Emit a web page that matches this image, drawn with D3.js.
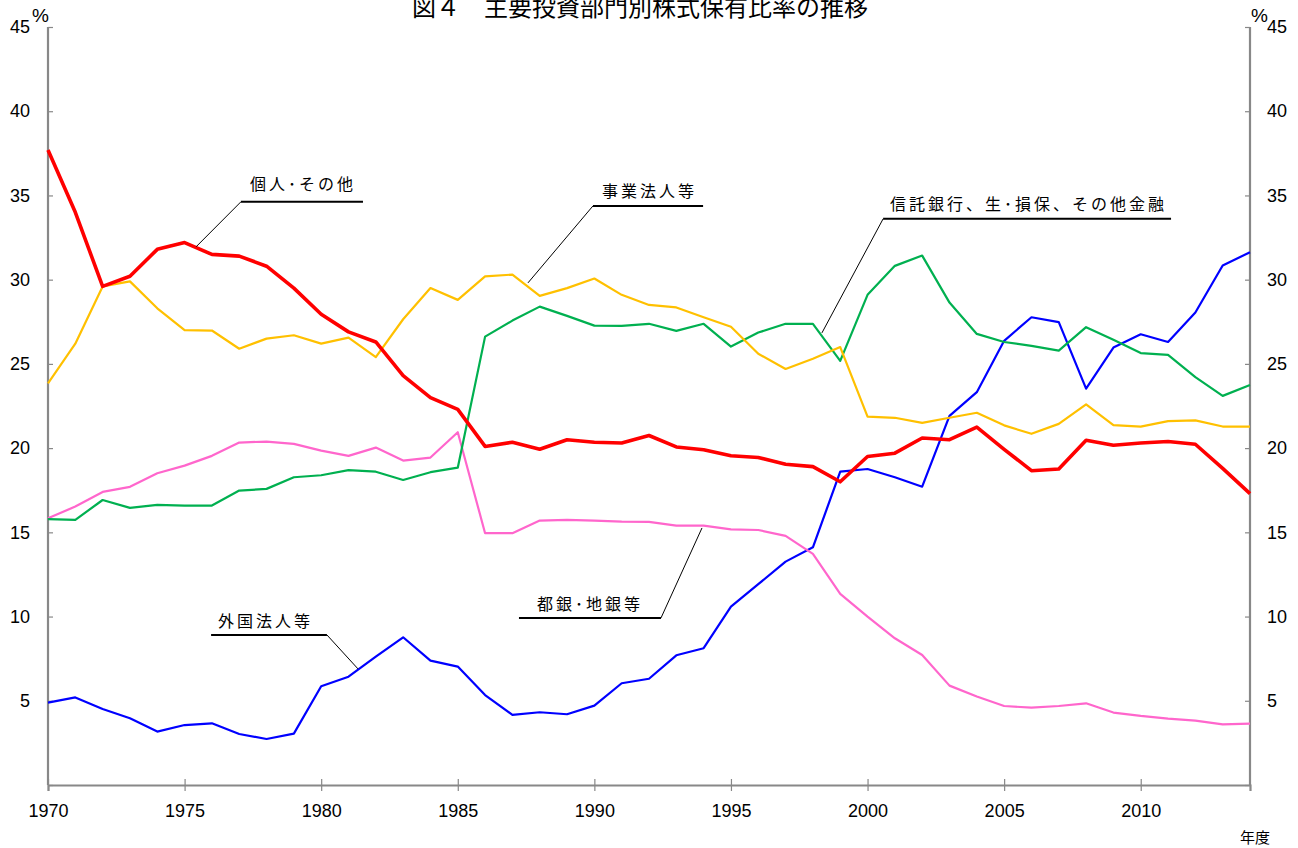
<!DOCTYPE html>
<html>
<head>
<meta charset="utf-8">
<script src="https://cdn.jsdelivr.net/npm/d3@7"></script>
<style>
  body { margin: 0; background: #fff; }
  svg { font-family: "Noto Sans CJK JP", "Noto Sans", sans-serif; }
</style>
</head>
<body>
<div id="chart"></div>
<script>
// 年度
var years = d3.range(1970, 2015);

// 個人・その他
var individuals = [37.7, 34.0, 29.6, 30.2, 31.8, 32.2, 31.5, 31.4, 30.8, 29.5,
  27.95, 26.9, 26.3, 24.3, 23.0, 22.3, 20.1, 20.35, 19.93, 20.5,
  20.35, 20.3, 20.75, 20.07, 19.9, 19.55, 19.44, 19.04, 18.9, 18.0,
  19.5, 19.7, 20.6, 20.5, 21.25, 19.93, 18.66, 18.76, 20.47, 20.17,
  20.3, 20.39, 20.23, 18.8, 17.3];

// 事業法人等
var corporations = [23.85, 26.2, 29.6, 29.9, 28.3, 27.0, 26.98, 25.9, 26.5, 26.7,
  26.2, 26.56, 25.4, 27.65, 29.5, 28.8, 30.2, 30.3, 29.04, 29.5,
  30.07, 29.1, 28.5, 28.35, 27.77, 27.2, 25.6, 24.7, 25.3, 26.0,
  21.87, 21.8, 21.5, 21.8, 22.1, 21.35, 20.85, 21.44, 22.6, 21.36,
  21.28, 21.6, 21.65, 21.28, 21.28];

// 信託銀行、生・損保、その他金融
var financials = [15.78, 15.74, 16.92, 16.45, 16.63, 16.59, 16.59, 17.48, 17.58, 18.27,
  18.39, 18.69, 18.6, 18.11, 18.57, 18.84, 26.62, 27.57, 28.4, 27.85,
  27.27, 27.26, 27.38, 26.96, 27.38, 26.03, 26.86, 27.38, 27.38, 25.18,
  29.1, 30.82, 31.43, 28.64, 26.78, 26.3, 26.07, 25.79, 27.18, 26.43,
  25.64, 25.53, 24.21, 23.1, 23.75];

// 都銀・地銀等
var banks = [15.84, 16.53, 17.4, 17.7, 18.51, 18.96, 19.54, 20.33, 20.39, 20.25,
  19.85, 19.54, 20.03, 19.26, 19.44, 20.94, 14.95, 14.95, 15.7, 15.74,
  15.7, 15.64, 15.62, 15.4, 15.4, 15.18, 15.14, 14.79, 13.72, 11.35,
  10.0, 8.71, 7.72, 5.9, 5.25, 4.69, 4.59, 4.69, 4.85, 4.3,
  4.1, 3.94, 3.82, 3.6, 3.64];

// 外国法人等
var foreigners = [4.89, 5.2, 4.51, 3.96, 3.17, 3.56, 3.66, 3.03, 2.73, 3.05,
  5.86, 6.43, 7.62, 8.77, 7.38, 7.03, 5.34, 4.16, 4.32, 4.2,
  4.71, 6.04, 6.31, 7.7, 8.12, 10.59, 11.92, 13.26, 14.11, 18.6,
  18.76, 18.27, 17.71, 21.91, 23.32, 26.37, 27.77, 27.48, 23.53, 25.97,
  26.76, 26.3, 28.05, 30.84, 31.63];

var yTicks = [0, 5, 10, 15, 20, 25, 30, 35, 40, 45];
var xTicks = [1970, 1975, 1980, 1985, 1990, 1995, 2000, 2005, 2010];

var series = [
  { name: "外国法人等", values: foreigners, color: "#0000FF", width: 2.2 },
  { name: "都銀・地銀等", values: banks, color: "#FF66CC", width: 2.2 },
  { name: "信託銀行、生・損保、その他金融", values: financials, color: "#00B050", width: 2.2 },
  { name: "事業法人等", values: corporations, color: "#FFC000", width: 2.2 },
  { name: "個人・その他", values: individuals, color: "#FF0000", width: 3.6 }
];

// labels: anchor on line, elbow, far end of underline (year, value), text start
var notes = [
  { text: "個人･その他", ax: 1975.42, ay: 31.95, ex: 1977.06, ey: 34.62, ux: 1981.53, tx: 1977.39, ty: 35.3 },
  { text: "事業法人等", ax: 1987.57, ay: 29.81, ex: 1989.95, ey: 34.38, ux: 1993.98, tx: 1990.28, ty: 34.9 },
  { text: "信託銀行、生･損保、その他金融", ax: 1998.33, ay: 26.84, ex: 2000.57, ey: 33.61, ux: 2011.11, tx: 2000.82, ty: 34.15 },
  { text: "外国法人等", ax: 1981.35, ay: 6.89, ex: 1980.21, ey: 8.91, ux: 1975.97, tx: 1976.22, ty: 9.4 },
  { text: "都銀･地銀等", ax: 1993.94, ay: 15.26, ex: 1992.44, ey: 9.92, ux: 1987.24, tx: 1987.9, ty: 10.4 }
];

var W = 1298, H = 848;
var margin = { top: 27, right: 48, bottom: 63, left: 48 };

var svg = d3.select("#chart").append("svg")
  .attr("width", W)
  .attr("height", H);

var x = d3.scaleLinear().domain([1970, 2014]).range([margin.left, W - margin.right]);
var y = d3.scaleLinear().domain([0, 45]).range([H - margin.bottom, margin.top]);

// title
svg.append("text")
  .attr("x", 412)
  .attr("y", 16)
  .style("font-size", "24px")
  .style("fill", "#000")
  .text("図４　主要投資部門別株式保有比率の推移");

var fmt = function(d) { return d === 0 ? "" : d; };

// left axis
var gl = svg.append("g")
  .attr("transform", "translate(" + margin.left + ",0)")
  .call(d3.axisLeft(y).tickValues(yTicks).tickSize(-5).tickPadding(18).tickFormat(fmt));

// right axis
var gr = svg.append("g")
  .attr("transform", "translate(" + (W - margin.right) + ",0)")
  .call(d3.axisRight(y).tickValues(yTicks).tickSize(-5).tickPadding(17).tickFormat(fmt));

// bottom axis
var gb = svg.append("g")
  .attr("transform", "translate(0," + (H - margin.bottom) + ")")
  .call(d3.axisBottom(x).tickValues(xTicks).tickSize(6).tickPadding(13).tickFormat(d3.format("d")));
gb.selectAll(".tick line").attr("y1", -6);

[gl, gr, gb].forEach(function(g) {
  g.select(".domain").attr("stroke", "#888").attr("stroke-width", 2.2);
  g.selectAll(".tick line").attr("stroke", "#888").attr("stroke-width", 1.2);
  g.selectAll(".tick text").style("font-size", "18px").style("fill", "#000")
    .style("font-family", "'Liberation Sans', Arial, sans-serif");
});
gl.select(".domain").attr("d", "M0," + y(45) + "V" + y(0));
gr.select(".domain").attr("d", "M0," + y(45) + "V" + y(0));

// % units and 年度
svg.append("text").attr("x", 32).attr("y", 22)
  .style("font-size", "19px").style("font-family", "'Liberation Sans', Arial, sans-serif").text("%");
svg.append("text").attr("x", 1251).attr("y", 22)
  .style("font-size", "19px").style("font-family", "'Liberation Sans', Arial, sans-serif").text("%");
svg.append("text").attr("x", 1240).attr("y", 843).style("font-size", "15px").text("年度");

// lines
var line = d3.line()
  .x(function(d, i) { return x(years[i]); })
  .y(function(d) { return y(d); });

svg.selectAll(".series")
  .data(series)
  .enter()
  .append("path")
  .attr("class", "series")
  .attr("fill", "none")
  .attr("stroke", function(d) { return d.color; })
  .attr("stroke-width", function(d) { return d.width; })
  .attr("stroke-linejoin", "round")
  .attr("d", function(d) { return line(d.values); });

// annotations
var ann = svg.selectAll(".note").data(notes).enter().append("g").attr("class", "note");

ann.append("line")
  .attr("x1", function(d) { return x(d.ax); })
  .attr("y1", function(d) { return y(d.ay); })
  .attr("x2", function(d) { return x(d.ex); })
  .attr("y2", function(d) { return y(d.ey); })
  .attr("stroke", "#000")
  .attr("stroke-width", 1);

ann.append("line")
  .attr("x1", function(d) { return x(d.ex); })
  .attr("y1", function(d) { return y(d.ey); })
  .attr("x2", function(d) { return x(d.ux); })
  .attr("y2", function(d) { return y(d.ey); })
  .attr("stroke", "#000")
  .attr("stroke-width", 2);

ann.append("text")
  .attr("x", function(d) { return x(d.tx); })
  .attr("y", function(d) { return y(d.ty); })
  .style("font-size", "16px")
  .style("letter-spacing", "3px")
  .style("fill", "#000")
  .text(function(d) { return d.text; });
</script>
</body>
</html>
